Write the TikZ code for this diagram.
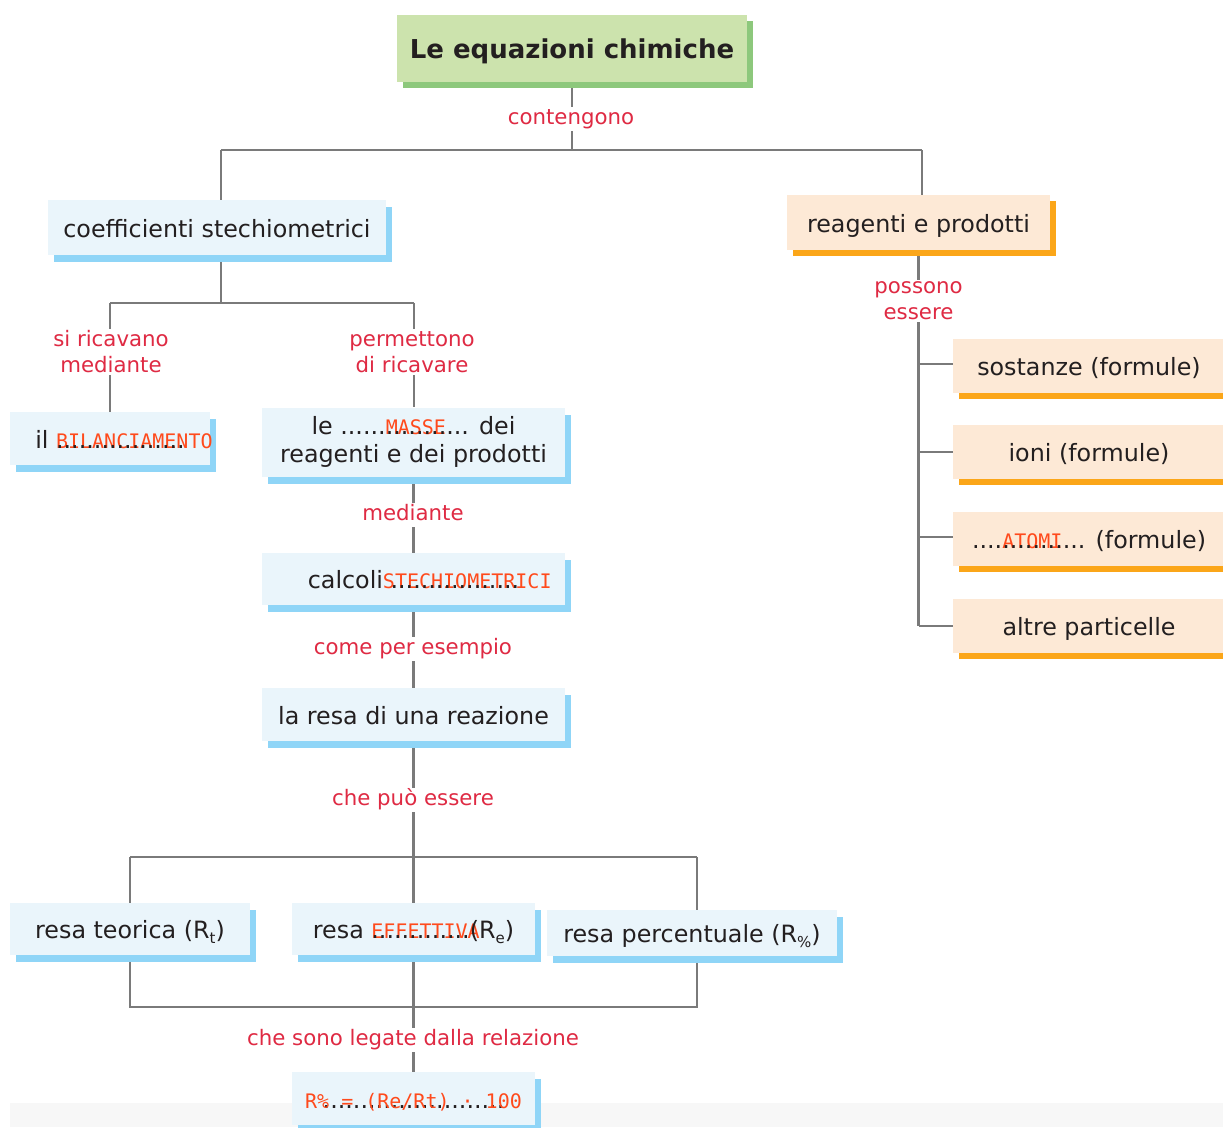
\documentclass[tikz,border=0pt]{standalone}
\usepackage{fontspec}
\setmainfont{DejaVu Sans}
\newfontfamily\fillfont{DejaVu Sans Mono}
\usetikzlibrary{shadows,backgrounds}
\definecolor{txt}{HTML}{231F20}
\definecolor{lblred}{HTML}{DF2A43}
\definecolor{fillred}{HTML}{FF4A1C}
\definecolor{linegray}{HTML}{7A7A7A}
\definecolor{greenfill}{HTML}{CCE3AD}
\definecolor{greenshadow}{HTML}{8DC87C}
\definecolor{bluefill}{HTML}{EAF5FB}
\definecolor{blueshadow}{HTML}{8FD5F7}
\definecolor{orfill}{HTML}{FDE9D6}
\definecolor{orshadow}{HTML}{FBA619}
\definecolor{bandgray}{HTML}{F7F7F7}
\newcommand\bxf{\fontsize{23.8}{28}\selectfont}
\newcommand\lbf{\fontsize{21.3}{26}\selectfont}
\newcommand\ttlf{\fontsize{26}{30}\selectfont\bfseries}
\newcommand\ff[1]{{\fillfont\fontsize{20}{20}\selectfont\color{fillred}#1}}
\newcommand\sbs[1]{\raisebox{-0.35ex}{\fontsize{15}{15}\selectfont #1}}
\tikzset{
 box/.style={rectangle, inner sep=0pt, align=center, text=txt, font=\bxf},
 oneline/.style={text height=19pt, text depth=0pt},
 bluebox/.style={box, fill=bluefill, drop shadow={shadow xshift=6pt, shadow yshift=-7pt, fill=blueshadow, opacity=1}},
 orbox/.style={box, oneline, fill=orfill, drop shadow={shadow xshift=6pt, shadow yshift=-6pt, fill=orshadow, opacity=1}},
 titlebox/.style={box, oneline, fill=greenfill, font=\ttlf, drop shadow={shadow xshift=6pt, shadow yshift=-6pt, fill=greenshadow, opacity=1}},
 lbl/.style={fill=white, text=lblred, font=\lbf, align=center, inner sep=2pt},
 lblone/.style={lbl, text height=15.5pt, text depth=4.5pt},
 link/.style={draw=linegray, line width=2.5pt},
}
\begin{document}
\begin{tikzpicture}[x=1pt,y=-1pt]
\useasboundingbox (0,0) rectangle (1223,1127);

% boxes
\node[titlebox, minimum width=350, minimum height=67] (title) at (572,48.5) {Le equazioni chimiche};
\node[bluebox, oneline, minimum width=338, minimum height=55] (coef) at (217,227.5) {coefficienti stechiometrici};
\node[orbox, minimum width=263, minimum height=55] (reag) at (918.5,222.5) {reagenti e prodotti};
\node[bluebox, oneline, minimum width=200, minimum height=53] (bil) at (110,438.5) {il \rlap{\ff{BILANCIAMENTO}}.................};
\node[bluebox, minimum width=303, minimum height=69] (masse) at (413.5,442) {le ......\rlap{\ff{MASSE}}........... dei\\reagenti e dei prodotti};
\node[bluebox, oneline, minimum width=303, minimum height=52] (calc) at (413.5,579) {calcoli\rlap{\ff{STECHIOMETRICI}} .................};
\node[bluebox, oneline, minimum width=303, minimum height=53] (resa) at (413.5,714.5) {la resa di una reazione};
\node[bluebox, oneline, minimum width=240, minimum height=52] (teor) at (130,929) {resa teorica (R\sbs{t})};
\node[bluebox, oneline, minimum width=243, minimum height=52] (eff) at (413.5,929) {resa \rlap{\ff{EFFETTIVA}}.............(R\sbs{e})};
\node[bluebox, oneline, minimum width=290, minimum height=46] (perc) at (692,933) {resa percentuale (R\sbs{\%})};
\node[bluebox, oneline, minimum width=243, minimum height=53] (form) at (413.5,1098.5) {\makebox[0pt]{........................}\makebox[0pt]{\ff{R\% = (Re/Rt) · 100}}};
\node[orbox, minimum width=272, minimum height=54] (sost) at (1089,366) {sostanze (formule)};
\node[orbox, minimum width=272, minimum height=54] (ioni) at (1089,452) {ioni (formule)};
\node[orbox, minimum width=272, minimum height=54] (atomi) at (1089,538.5) {....\rlap{\ff{ATOMI}}........... (formule)};
\node[orbox, minimum width=272, minimum height=54] (altre) at (1089,626) {altre particelle};

% junctions
\coordinate (j1) at (572,150);
\coordinate (j1l) at (221,150);
\coordinate (j1r) at (922,150);
\coordinate (j2) at (221,303);
\coordinate (j2l) at (110,303);
\coordinate (j2r) at (414,303);
\coordinate (j3) at (413.5,857);
\coordinate (j3l) at (130,857);
\coordinate (j3r) at (697,857);
\coordinate (j4l) at (130,1007);
\coordinate (j4r) at (697,1007);
\coordinate (k1) at (918.5,364);
\coordinate (k2) at (918.5,452);
\coordinate (k3) at (918.5,537);
\coordinate (k4) at (918.5,626);

\begin{pgfonlayer}{background}
\fill[bandgray] (10,1103) rectangle (1223,1127);
\draw[link] (title) -- (j1);
\draw[link] (j1l) -- (j1r);
\draw[link] (j1l) -- (j1l |- coef.north);
\draw[link] (j1r) -- (j1r |- reag.north);
\draw[link] (coef.south -| j2) -- (j2);
\draw[link] (j2l) -- (j2r);
\draw[link] (j2l) -- (bil);
\draw[link] (j2r) -- (j2r |- masse.north);
\draw[link] (masse) -- (calc);
\draw[link] (calc) -- (resa);
\draw[link] (resa) -- (j3);
\draw[link] (j3l) -- (j3r);
\draw[link] (j3l) -- (teor);
\draw[link] (j3) -- (eff);
\draw[link] (j3r) -- (j3r |- perc.north);
\draw[link] (teor) -- (j4l) -- (j4r) -- (j4r |- perc.south);
\draw[link] (eff) -- (form);
\draw[link] (reag) -- (k4);
\draw[link] (k1) -- (k1 -| sost.west);
\draw[link] (k2) -- (ioni);
\draw[link] (k3) -- (k3 -| atomi.west);
\draw[link] (k4) -- (altre);
\end{pgfonlayer}

% labels
\node[lblone] (l1) at (571,119) {contengono};
\node[lbl] (l2) at (111,352) {si ricavano\\mediante};
\node[lbl] (l3) at (412,352) {permettono\\di ricavare};
\node[lbl] (l4) at (918.5,301) {possono\\essere};
\node[lblone] (l5) at (413,515) {mediante};
\node[lblone] (l6) at (413,649) {come per esempio};
\node[lblone] (l7) at (413,800) {che può essere};
\node[lblone] (l8) at (413,1040) {che sono legate dalla relazione};
\end{tikzpicture}
\end{document}
